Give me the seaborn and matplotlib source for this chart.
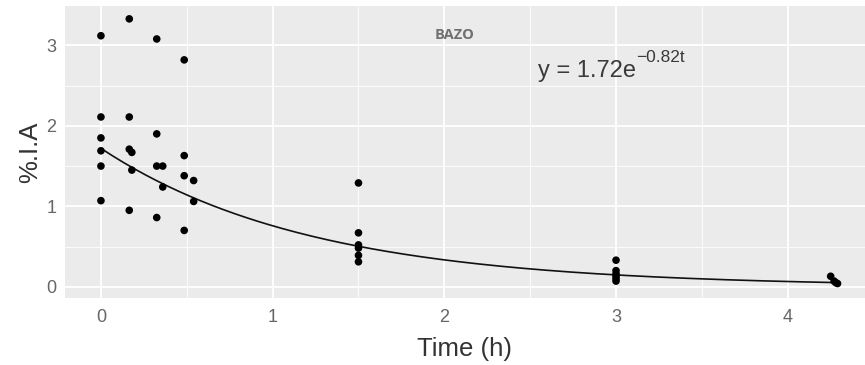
import numpy as np
import pandas as pd
import matplotlib
matplotlib.use("Agg")
import matplotlib.pyplot as plt
from matplotlib.ticker import MultipleLocator
import seaborn as sns

# Measured %I.A in spleen (BAZO) at each sampling time
time_h = [0, 0, 0, 0, 0, 0,
          0.165, 0.165, 0.165, 0.165, 0.18, 0.18,
          0.325, 0.325, 0.325, 0.325, 0.36, 0.36,
          0.485, 0.485, 0.485, 0.485, 0.54, 0.54,
          1.5, 1.5, 1.5, 1.5, 1.5, 1.5,
          3.0, 3.0, 3.0, 3.0, 3.0, 3.0,
          4.25, 4.27, 4.28, 4.29]
pct_ia = [3.12, 2.11, 1.85, 1.69, 1.50, 1.07,
          3.33, 2.11, 1.71, 0.95, 1.67, 1.45,
          3.08, 1.90, 1.50, 0.86, 1.50, 1.24,
          2.82, 1.63, 1.38, 0.70, 1.32, 1.06,
          1.29, 0.67, 0.52, 0.48, 0.39, 0.31,
          0.33, 0.20, 0.16, 0.13, 0.10, 0.07,
          0.13, 0.07, 0.05, 0.04]

# fitted model shown on the chart: y = A * exp(-k t)
fit_a = 1.72
fit_k = 0.82

df = pd.DataFrame({"Time (h)": time_h, "%.I.A": pct_ia})
t_fit = np.linspace(0, max(time_h), 200)
fit_df = pd.DataFrame({"t": t_fit, "y": fit_a * np.exp(-fit_k * t_fit)})

sns.set_theme(style="darkgrid")
plt.rcParams["font.family"] = ["Liberation Sans", "DejaVu Sans"]

fig = plt.figure(figsize=(8.65, 3.65), dpi=100)
ax = fig.add_axes([0.075, 0.1836, 0.925, 0.80])
ax.set_facecolor("#EBEBEB")

sns.lineplot(data=fit_df, x="t", y="y", color="#111111", linewidth=1.2, ax=ax)
sns.scatterplot(data=df, x="Time (h)", y="%.I.A", color="black", s=30,
                edgecolor="none", ax=ax, zorder=3)

ax.set_xlim(-0.21, 4.45)
ax.set_ylim(-0.14, 3.49)
ax.xaxis.set_major_locator(MultipleLocator(1))
ax.yaxis.set_major_locator(MultipleLocator(1))
ax.xaxis.set_minor_locator(MultipleLocator(0.5))
ax.yaxis.set_minor_locator(MultipleLocator(0.5))
ax.grid(which="major", color="white", linewidth=1.3)
ax.grid(which="minor", color="white", linewidth=0.6)
for s in ax.spines.values():
    s.set_visible(False)

ax.tick_params(which="major", length=3, width=1, color="#555555",
               labelsize=13, labelcolor="#666666", pad=3)
ax.tick_params(which="minor", length=0)
ax.tick_params(axis="x", pad=5)

ax.set_xlabel("Time (h)", fontsize=18.5, color="#333333", labelpad=8)
ax.set_ylabel("%.I.A", fontsize=18.5, color="#333333", labelpad=3)

ax.text(2.06, 3.13, "BAZO", ha="center", va="center", fontsize=10.5,
        fontweight="bold", color="#707070", family=["Open Sans", "DejaVu Sans"])
eq = ax.text(2.545, 2.61, "y = 1.72e", ha="left", va="baseline",
             fontsize=17, color="#3a3a3a")
ax.annotate("\u22120.82t", xy=(1, 1), xycoords=eq, xytext=(0.5, -3.5),
            textcoords="offset points", ha="left", va="bottom",
            fontsize=12.5, color="#3a3a3a")

fig.savefig("out.png", dpi=100)
